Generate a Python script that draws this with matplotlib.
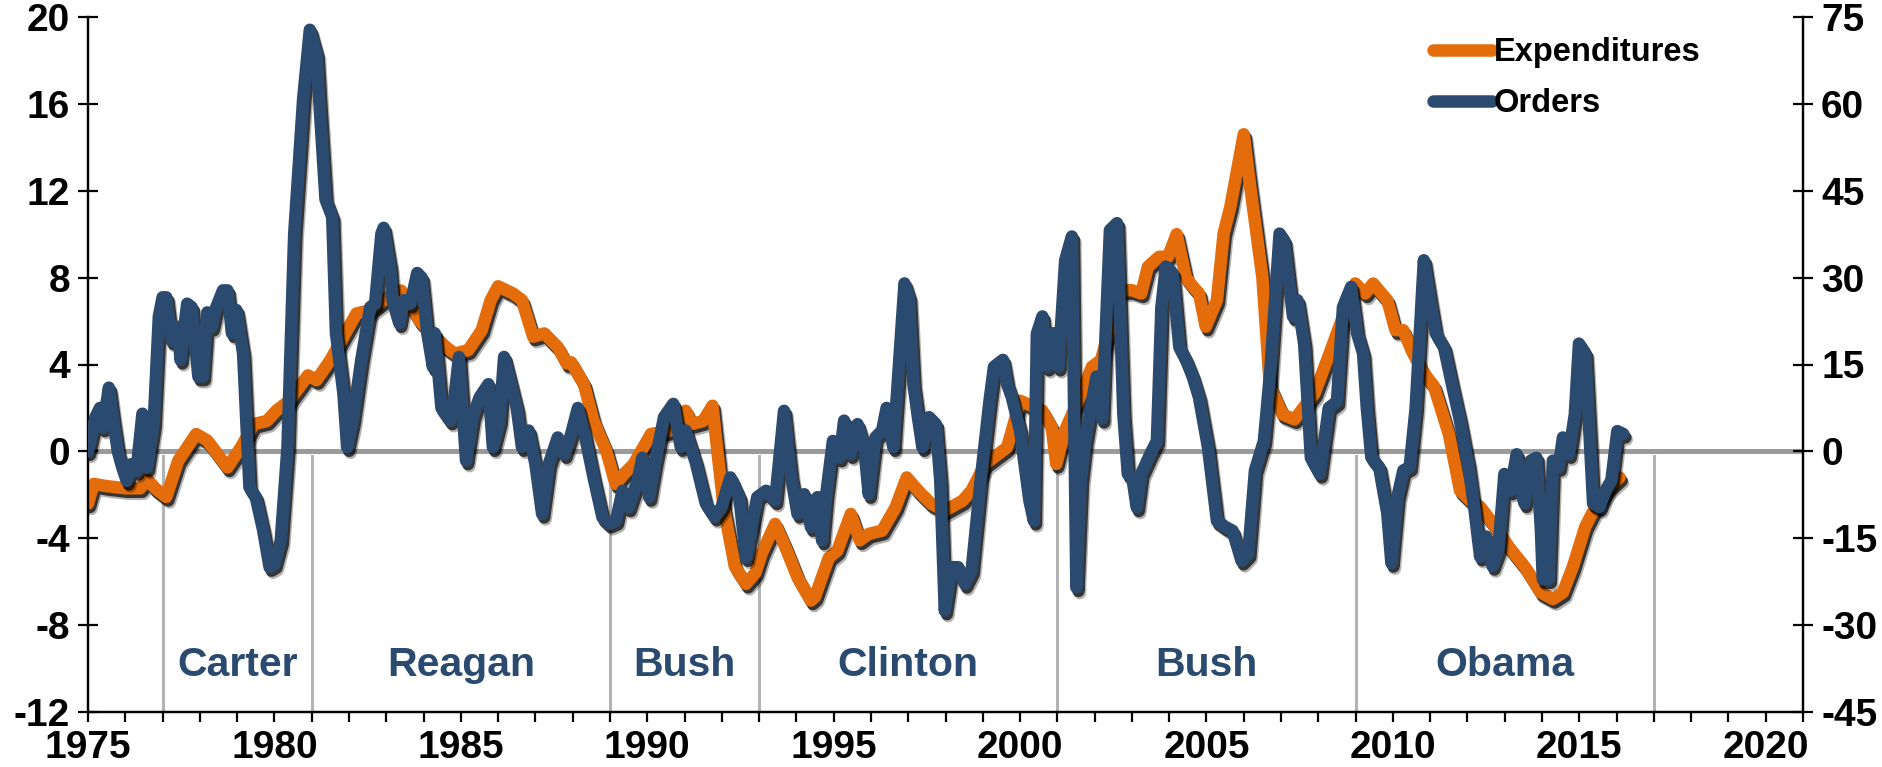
import matplotlib
matplotlib.use('Agg')
import matplotlib.pyplot as plt
import matplotlib.patheffects as pe


# ===== DATA =====
exp_years = [1975.0, 1975.15, 1975.5, 1976.0, 1976.4, 1976.6, 1976.8, 1977.1, 1977.42, 1977.9,
             1978.2, 1978.74, 1979.1, 1979.45, 1979.8, 1980.05, 1980.4, 1980.9, 1981.13, 1981.5,
             1982.2, 1982.57, 1983.17, 1983.4, 1983.9, 1984.6, 1984.84, 1985.2, 1985.56, 1985.8,
             1986.0, 1986.4, 1986.64, 1986.94, 1987.24, 1987.6, 1987.84, 1987.96, 1988.3, 1988.56,
             1988.9, 1989.15, 1989.4, 1989.63, 1990.1, 1990.6, 1991.03, 1991.2, 1991.5, 1991.75,
             1991.87, 1992.05, 1992.35, 1992.65, 1992.9, 1993.07, 1993.43, 1993.67, 1994.03, 1994.39,
             1994.5, 1994.87, 1995.1, 1995.46, 1995.7, 1995.94, 1996.3, 1996.66, 1996.96, 1997.26,
             1997.62, 1997.98, 1998.46, 1998.7, 1999.06, 1999.65, 1999.78, 2000.0, 2000.6, 2000.85,
             2000.97, 2001.2, 2001.6, 2001.93, 2002.17, 2002.41, 2002.65, 2003.0, 2003.25, 2003.43,
             2003.73, 2003.97, 2004.2, 2004.45, 2004.63, 2004.8, 2004.98, 2005.28, 2005.46, 2005.64,
             2006.0, 2006.15, 2006.5, 2006.7, 2007.04, 2007.36, 2007.6, 2007.9, 2008.3, 2008.66,
             2008.99, 2009.26, 2009.47, 2009.85, 2010.07, 2010.28, 2010.5, 2010.83, 2011.1, 2011.5,
             2011.8, 2012.07, 2012.34, 2012.67, 2013.1, 2013.53, 2013.97, 2014.29, 2014.56, 2014.83,
             2015.16, 2015.48, 2015.8, 2016.08]
expenditures = [-2.4, -1.5, -1.6, -1.7, -1.7, -1.3, -1.7, -2.1, -0.43, 0.8,
                0.5, -0.74, 0.18, 1.26, 1.4, 1.87, 2.33, 3.5, 3.28, 4.2,
                6.35, 6.5, 7.27, 7.4, 6.0, 4.8, 4.5, 4.66, 5.58, 6.96,
                7.6, 7.27, 6.96, 5.28, 5.43, 4.8, 4.05, 4.1, 3.1, 1.4,
                0.03, -1.5, -1.0, -0.6, 0.8, 0.95, 1.87, 1.26, 1.4, 2.1,
                0.18, -2.58, -5.3, -6.1, -5.6, -4.7, -3.34, -4.26, -5.8, -6.87,
                -6.7, -4.9, -4.57, -2.88, -4.1, -3.8, -3.65, -2.58, -1.2, -1.8,
                -2.42, -2.73, -2.27, -1.8, -0.58, 0.18, 0.95, 2.33, 1.87, 1.1,
                -0.58, 0.95, 2.5, 3.9, 4.2, 5.74, 7.42, 7.42, 7.27, 8.5,
                8.96, 8.96, 10.0, 8.0, 7.6, 7.27, 5.74, 6.96, 10.03, 11.26,
                14.6, 12.5, 8.0, 3.0, 1.7, 1.47, 2.0, 2.67, 4.5, 6.2,
                7.73, 7.27, 7.73, 6.96, 5.58, 5.58, 4.66, 3.6, 3.0, 0.8,
                -1.8, -2.25, -2.55, -3.3, -4.38, -5.3, -6.5, -6.8, -6.5, -5.3,
                -3.47, -2.4, -1.64, -1.2]

ord_years = [1975.0, 1975.2, 1975.32, 1975.4, 1975.56, 1975.68, 1975.8, 1975.92, 1976.04, 1976.16,
             1976.3, 1976.46, 1976.58, 1976.76, 1976.9, 1977.0, 1977.1, 1977.24, 1977.42, 1977.48,
             1977.66, 1977.78, 1977.96, 1978.08, 1978.2, 1978.32, 1978.44, 1978.62, 1978.74, 1978.86,
             1978.98, 1979.16, 1979.33, 1979.5, 1979.7, 1979.87, 1980.0, 1980.17, 1980.35, 1980.53,
             1980.77, 1980.95, 1981.13, 1981.2, 1981.37, 1981.55, 1981.65, 1981.85, 1981.95, 1982.1,
             1982.33, 1982.57, 1982.7, 1982.87, 1982.93, 1983.1, 1983.17, 1983.35, 1983.47, 1983.65,
             1983.83, 1983.95, 1984.1, 1984.25, 1984.3, 1984.48, 1984.72, 1984.84, 1984.95, 1985.14,
             1985.32, 1985.5, 1985.74, 1985.86, 1986.04, 1986.16, 1986.34, 1986.5, 1986.64, 1986.82,
             1987.0, 1987.18, 1987.36, 1987.6, 1987.78, 1987.96, 1988.14, 1988.32, 1988.56, 1988.8,
             1988.98, 1989.16, 1989.34, 1989.5, 1989.74, 1989.87, 1990.05, 1990.22, 1990.45, 1990.7,
             1990.9, 1991.03, 1991.3, 1991.57, 1991.81, 1991.99, 1992.23, 1992.47, 1992.65, 1992.83,
             1992.95, 1993.19, 1993.43, 1993.67, 1993.85, 1994.03, 1994.21, 1994.39, 1994.57, 1994.69,
             1994.8, 1994.98, 1995.16, 1995.28, 1995.46, 1995.64, 1995.82, 1995.94, 1996.12, 1996.3,
             1996.42, 1996.6, 1996.9, 1997.02, 1997.14, 1997.26, 1997.38, 1997.56, 1997.74, 1997.86,
             1997.98, 1998.16, 1998.34, 1998.52, 1998.7, 1998.94, 1999.18, 1999.3, 1999.54, 1999.65,
             1999.78, 2000.0, 2000.25, 2000.37, 2000.45, 2000.6, 2000.73, 2000.9, 2001.03, 2001.21,
             2001.39, 2001.51, 2001.63, 2001.75, 2001.9, 2002.05, 2002.2, 2002.41, 2002.6, 2002.77,
             2002.89, 2003.01, 2003.13, 2003.25, 2003.49, 2003.67, 2003.79, 2003.91, 2004.09, 2004.27,
             2004.45, 2004.63, 2004.8, 2005.04, 2005.28, 2005.52, 2005.7, 2005.94, 2006.12, 2006.3,
             2006.54, 2006.72, 2006.96, 2007.08, 2007.32, 2007.44, 2007.62, 2007.8, 2008.04, 2008.28,
             2008.5, 2008.66, 2008.88, 2009.04, 2009.2, 2009.3, 2009.42, 2009.63, 2009.85, 2009.96,
             2010.12, 2010.28, 2010.45, 2010.61, 2010.83, 2011.0, 2011.15, 2011.37, 2011.58, 2011.8,
             2012.02, 2012.18, 2012.34, 2012.5, 2012.67, 2012.83, 2012.99, 2013.15, 2013.32, 2013.43,
             2013.53, 2013.7, 2013.85, 2013.97, 2014.02, 2014.18, 2014.29, 2014.45, 2014.56, 2014.72,
             2014.88, 2014.99, 2015.16, 2015.37, 2015.54, 2015.7, 2015.86, 2016.02, 2016.18]
orders = [0.0, 5.9, 7.5, 4.1, 11.0, 5.3, 0.0, -2.8, -5.1, -2.2,
          -3.4, 6.5, -2.8, 4.7, 23.3, 26.6, 26.6, 19.1, 21.5, 15.8,
          25.5, 24.9, 12.9, 12.9, 24.0, 21.5, 24.9, 27.8, 27.8, 20.4,
          24.4, 16.9, -6.2, -7.9, -13.7, -20.0, -19.5, -15.4, 0.7, 37.5,
          60.8, 72.8, 68.6, 60.8, 43.5, 40.5, 20.4, 10.0, 0.7, 5.3,
          15.8, 24.9, 25.5, 37.6, 38.6, 31.9, 26.1, 22.1, 26.1, 25.5,
          30.8, 30.0, 20.4, 14.6, 20.4, 7.5, 5.3, 9.9, 16.3, -1.6,
          5.9, 9.3, 11.6, 0.7, 5.3, 16.3, 11.7, 7.5, 0.7, 3.6,
          -2.2, -10.8, -2.2, 2.4, -0.5, 3.0, 7.5, 3.0, -4.5, -11.4,
          -12.5, -12.0, -6.8, -9.7, -5.1, -1.1, -7.9, -1.6, 5.9, 8.2,
          0.7, 3.6, -1.9, -9.0, -11.3, -9.7, -4.5, -7.9, -18.3, -12.0,
          -7.9, -6.8, -8.5, 7.0, -3.9, -10.8, -7.4, -13.1, -7.9, -15.4,
          -7.4, 1.8, -1.1, 5.3, -0.5, 4.7, 0.7, -7.4, 2.4, 3.6,
          7.5, 0.7, 29.0, 26.6, 11.6, 5.9, 0.7, 5.9, 4.7, -5.1,
          -27.5, -20.0, -20.0, -22.9, -20.6, -5.1, 8.7, 14.6, 15.8, 11.7,
          9.3, 3.6, -8.5, -12.0, 20.3, 23.3, 14.6, 20.4, 14.6, 33.0,
          37.1, -23.5, -5.1, 1.8, 7.5, 12.9, 5.6, 38.2, 39.4, 6.4,
          -3.9, -4.5, -9.7, -3.9, -0.5, 1.8, 24.9, 31.9, 30.8, 18.0,
          15.8, 12.9, 9.3, 0.7, -12.0, -13.1, -13.7, -18.9, -17.7, -3.3,
          1.8, 14.6, 37.6, 36.4, 23.3, 26.1, 18.6, -1.1, -3.9, 7.5,
          8.6, 24.9, 28.4, 20.4, 16.9, 7.5, -1.0, -2.7, -10.7, -19.3,
          -7.9, -3.3, -2.7, 7.5, 33.0, 26.1, 20.4, 18.0, 11.7, 5.3,
          -2.2, -9.6, -18.2, -14.7, -19.8, -17.0, -3.9, -6.8, -0.5, -6.8,
          -9.0, -1.6, -1.1, -13.6, -22.1, -22.1, -1.6, -2.7, 2.4, -0.5,
          6.4, 18.6, 16.9, -9.0, -9.6, -6.8, -5.0, 3.5, 3.0]

term_starts = [1977, 1981, 1989, 1993, 2001, 2009, 2017]
presidents = ['Carter', 'Reagan', 'Bush', 'Clinton', 'Bush', 'Obama']

ORANGE = '#E46C0A'
NAVY = '#2B4A6F'
TICK_FONT = ['Liberation Sans Narrow', 'Liberation Sans', 'DejaVu Sans']

plt.rcParams['font.family'] = ['Liberation Sans', 'DejaVu Sans']
plt.rcParams['font.weight'] = 'bold'
plt.rcParams['axes.unicode_minus'] = False


def shadow():
    # fake soft drop shadow: a wide faint one and a tighter darker one
    return [pe.SimpleLineShadow(offset=(2.5, -4), shadow_color='black', alpha=0.3),
            pe.SimpleLineShadow(offset=(1.5, -2.5), shadow_color='black', alpha=0.7),
            pe.Normal()]


# ===== FIGURE =====
fig = plt.figure(figsize=(18.83, 7.67), dpi=100)
ax = fig.add_axes([88 / 1883, 55 / 767, (1803 - 88) / 1883, (712 - 17) / 767])
ax2 = ax.twinx()

ax.set_xlim(1975, 2021)
ax.set_ylim(-12, 20)
ax2.set_ylim(-45, 75)

# zero line and presidential term lines
ax.axhline(0, color='#9B9B9B', lw=3.6, zorder=1)
for t in term_starts:
    ax.plot([t, t], [-12, -0.2], color='#B3B3B3', lw=2.2, zorder=1)

for i, name in enumerate(presidents):
    mid = (term_starts[i] + term_starts[i + 1]) / 2
    ax.text(mid, -9.85, name, ha='center', va='center', fontsize=29.5,
            fontweight='bold', color=NAVY, zorder=2)

l1, = ax.plot(exp_years, expenditures, color=ORANGE, lw=9, solid_capstyle='round',
              solid_joinstyle='round', zorder=3, label='Expenditures', path_effects=shadow())
l2, = ax2.plot(ord_years, orders, color=NAVY, lw=9, solid_capstyle='round',
               solid_joinstyle='round', zorder=3, label='Orders', path_effects=shadow())

# axes styling
for a in (ax, ax2):
    a.spines['top'].set_visible(False)
    for s in ('left', 'right', 'bottom'):
        a.spines[s].set_linewidth(1.6)

ax.set_xticks(range(1975, 2022))
ax.set_xticklabels([str(y) if y % 5 == 0 else '' for y in range(1975, 2022)])
ax.tick_params(axis='x', direction='out', length=7, width=1.6, pad=6, labelsize=28)
ax.set_yticks(range(-12, 21, 4))
ax.tick_params(axis='y', direction='inout', length=14, width=1.6, pad=6, labelsize=28)
ax2.set_yticks(range(-45, 76, 15))
ax2.tick_params(axis='y', direction='inout', length=14, width=1.6, pad=6, labelsize=28)
for lab in ax.get_xticklabels() + ax.get_yticklabels() + ax2.get_yticklabels():
    lab.set_family(TICK_FONT)

leg = ax2.legend(handles=[l1, l2], loc='upper left', bbox_to_anchor=(1433 / 1883, 1 - 37 / 767),
                 bbox_transform=fig.transFigure, frameon=False, fontsize=23.5,
                 handlelength=1.8, handletextpad=0.05, labelspacing=0.62, borderpad=0,
                 borderaxespad=0)
for line in leg.get_lines():
    line.set_linewidth(9)
    line.set_path_effects([])
    line.set_solid_capstyle('round')

fig.savefig('out.png', dpi=100)
